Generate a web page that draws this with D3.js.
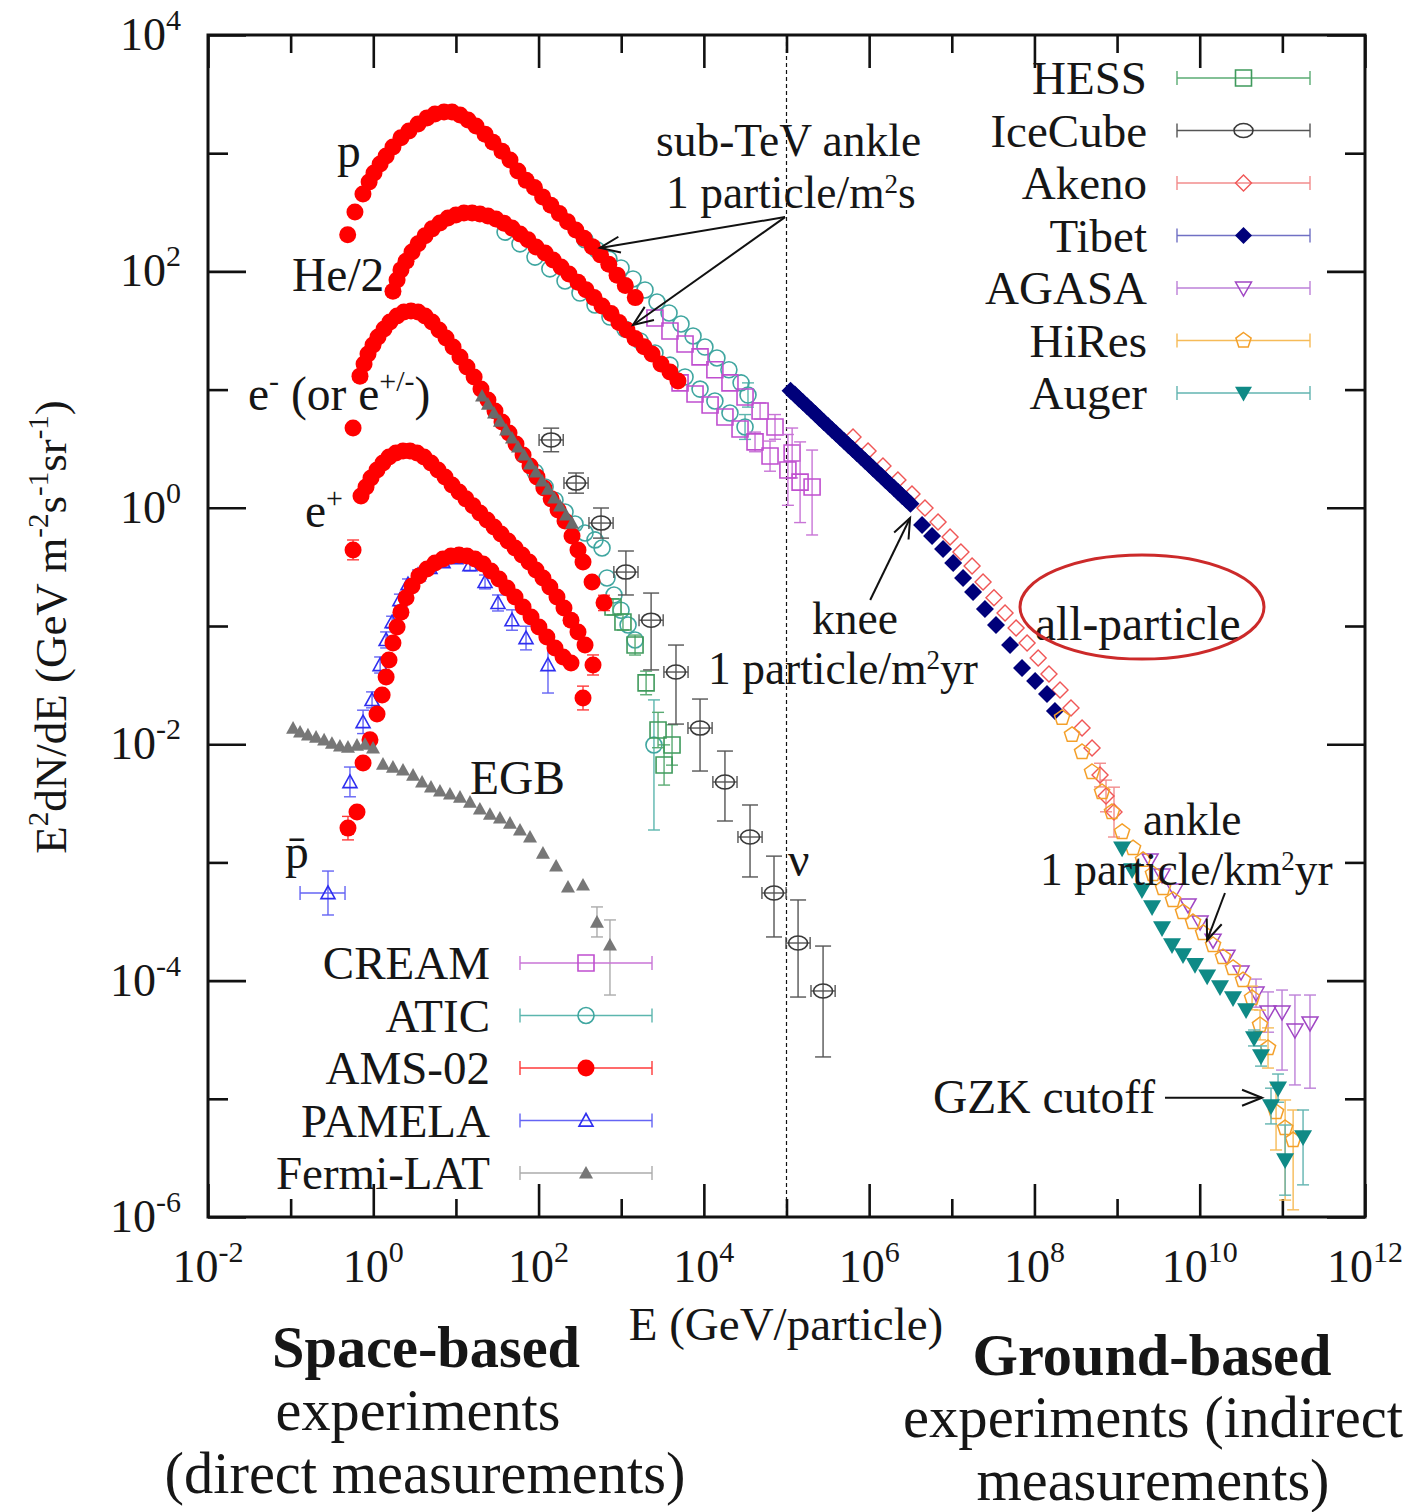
<!DOCTYPE html>
<html lang="en">
<head>
<meta charset="utf-8">
<title>Cosmic-ray energy spectra</title>
<script src="https://cdn.jsdelivr.net/npm/d3@7"></script>
<style>
  html, body { margin: 0; padding: 0; background: #fff; }
  svg text { font-family: "Liberation Serif", "Times New Roman", serif; fill: #161616; }
</style>
</head>
<body>
<svg id="chart" width="1413" height="1512"></svg>
<script>
// Rows: [E (GeV), E^2 dN/dE (GeV m^-2 s^-1 sr^-1), lower, upper]

// AMS-02
const amsProton = [[0.49,204],[0.60,318],[0.75,452],[0.89,570],[1.02,679],[1.21,811],[1.43,946],[1.73,1130],[2.16,1350],[2.70,1540],[3.48,1770],[4.47,1990],[5.58,2150],[7.18,2230],[8.97,2230],[11.2,2100],[14.0,1910],[17.5,1700],[22.5,1450],[28.1,1240],[36.1,1040],[45.1,875],[56.2,708],[70.8,589],[89.1,513],[112,427],[141,363],[178,309],[224,263],[282,224],[355,191],[447,162],[562,138],[708,115],[891,93],[1120,76],[1480,60]];
const amsHeliumHalf = [[1.73,68],[1.94,84.5],[2.16,103],[2.49,122],[2.94,146],[3.48,171],[4.23,200],[5.14,229],[6.41,257],[8.02,283],[10.0,300],[12.5,312],[15.7,312],[19.5,306],[24.4,294],[30.5,277],[38.2,256],[47.7,233],[59.6,207],[74.5,185],[93.1,161],[120,143],[150,125],[187,109],[233,95],[300,81],[375,70],[469,60],[586,51],[753,44],[940,37],[1175,32],[1470,27],[1890,23],[2360,20],[3030,16.5],[3890,14.1],[4860,11.8]];
const amsElectron = [[0.569,4.73],[0.690,13.0],[0.773,16.5],[0.863,20.0],[0.993,23.8],[1.14,27.9],[1.35,32.6],[1.59,37.3],[1.94,42.0],[2.35,45.4],[2.86,46.2],[3.48,45.4],[4.23,42.0],[5.14,37.3],[6.24,31.9],[7.59,27.3],[9.23,22.9],[11.2,18.9],[13.6,15.5],[16.6,12.8],[20.1,10.1],[24.4,8.17],[29.7,6.59],[36.1,5.32],[43.9,4.30],[53.3,3.47],[64.9,2.80],[78.8,2.26],[95.7,1.82],[116,1.47],[142,1.19],[172,0.957],[209,0.773],[254,0.577],[300,0.440],[345,0.348],[444,0.236],[619,0.157,0.135,0.182]];
const amsPositron = [[0.569,0.440,0.363,0.534],[0.710,1.26],[0.817,1.50],[0.938,1.79],[1.11,2.09],[1.31,2.39],[1.55,2.69],[1.88,2.91],[2.29,3.03],[2.78,3.03],[3.38,2.91],[4.11,2.69],[4.99,2.39],[6.07,2.09],[7.38,1.82],[8.97,1.56],[10.9,1.36],[13.2,1.19],[16.1,1.04],[19.5,0.903],[23.8,0.789],[28.9,0.689],[35.1,0.600],[42.7,0.524],[51.9,0.457],[63.1,0.399],[76.6,0.348],[93.1,0.298],[113,0.255],[137,0.214],[167,0.176],[203,0.142],[247,0.112],[300,0.0889],[365,0.0690],[456,0.0468,0.0385,0.0569]];
const amsAntiproton = [[0.494,0.00195,0.00155,0.00245],[0.635,0.00267],[0.752,0.00693],[0.912,0.0109],[1.11,0.0180],[1.28,0.0261],[1.43,0.0371],[1.55,0.0515],[1.73,0.0718],[1.94,0.0982],[2.16,0.131],[2.49,0.173],[2.94,0.218],[3.57,0.265],[4.47,0.303],[5.58,0.341],[6.98,0.369],[8.71,0.391],[10.9,0.399],[13.6,0.391],[17.0,0.369],[21.3,0.335],[26.5,0.292],[33.2,0.250],[41.5,0.210],[51.9,0.176],[64.9,0.145],[81.1,0.119],[101,0.0982],[126,0.0807],[158,0.0652],[198,0.0547],[247,0.0486],[345,0.0246,0.0195,0.0310]];

// PAMELA
const pamela = [[0.522,0.00479,0.00359,0.00641],[0.752,0.0154,0.0123,0.0194],[0.966,0.0237,0.0203,0.0277],[1.21,0.0468,0.0400,0.0547],[1.43,0.0762,0.0652,0.0891],[1.69,0.108,0.0963,0.121],[2.10,0.166,0.148,0.186],[2.63,0.226,0.205,0.250],[3.48,0.270,0.245,0.298],[4.85,0.310,0.281,0.341],[6.98,0.348,0.316,0.384],[10.0,0.376,0.341,0.415],[14.8,0.328,0.293,0.368],[22.5,0.236,0.206,0.270],[32.3,0.157,0.134,0.183],[47.7,0.112,0.0921,0.137],[70.5,0.0791,0.0628,0.0996],[130,0.0468,0.0271,0.0809]];
// [E, flux, lower, upper, E lower, E upper]
const pamelaLowEnergy = [[0.283,5.51e-4,3.59e-4,8.45e-4,0.130,0.455]];

// Fermi-LAT: extragalactic gamma background and e+e-
const fermiEGB = [[0.107,0.0137],[0.130,0.0127],[0.162,0.0120],[0.203,0.0115],[0.254,0.0109],[0.316,0.0102],[0.395,0.00966],[0.494,0.00946],[0.635,0.00984],[0.794,0.0100],[0.993,0.00929],[1.31,0.00679],[1.73,0.00641],[2.29,0.00605],[3.03,0.00548],[3.89,0.00479],[4.99,0.00435],[6.41,0.00402],[8.47,0.00379],[11.2,0.00357],[14.8,0.00324],[19.5,0.00283],[25.8,0.00256],[34.1,0.00238],[45.1,0.00215],[59.6,0.00188],[78.8,0.00164],[113,0.00120],[163,9.33e-4],[227,6.19e-4],[345,6.44e-4],[509,3.13e-4,2.34e-4,4.20e-4],[731,2.00e-4,7.55e-5,3.26e-4]];
const fermiElectrons = [[20.7,8.83],[24.4,7.55],[28.9,6.34],[34.1,5.42],[40.4,4.55],[47.7,3.90],[56.4,3.27],[66.7,2.80],[78.8,2.35],[93.1,2.01],[110,1.69],[130,1.44],[154,1.21],[182,1.04],[215,0.869],[254,0.743]];

// ATIC
const aticProton = [[365,185],[509,152],[711,127],[995,107],[1390,86.3],[1940,69.7],[2710,55.1],[3790,44.5],[5290,35.9],[7400,28.4],[10300,22.9],[14400,18.5],[20100,14.7],[28200,11.4],[34200,8.99,7.11,11.4]];
const aticHelium = [[39.3,215],[59.6,171],[90.6,132],[137,105],[209,83.0],[317,65.6],[482,52.0],[731,41.1],[1110,32.6],[1690,25.8],[2560,20.4],[3890,16.1],[5920,12.8],[8990,10.1],[13600,8.01],[20700,6.34],[31500,4.83,3.79,6.15]];
const aticElectron = [[90.6,2.01],[120,1.50],[158,1.16],[209,0.921],[276,0.729],[365,0.612],[482,0.535],[586,0.457],[673,0.255],[818,0.183],[995,0.136],[1210,0.102],[1470,0.0762],[2490,0.00984,0.00188,0.0237]];

// CREAM
const creamProton = [[2560,40.4],[3890,31.3],[5920,24.3],[8990,18.9],[13600,14.7],[20700,11.4],[31500,8.65],[47900,6.59,5.63,7.71],[72600,4.83,3.80,6.15],[117000,2.91,1.79,4.73],[204000,1.50,0.589,3.08]];
const creamHelium = [[5150,11.4],[7820,9.18],[11900,7.41],[18000,5.86],[27400,4.64],[41600,3.61,2.98,4.37],[63200,2.74,2.04,3.67],[104000,2.09,1.05,4.17],[146000,1.65,0.75,3.61]];

// HESS
const hess = [[796,0.145,0.124,0.170],[1050,0.108,0.0924,0.126],[1470,0.0690,0.0568,0.0838],[2000,0.0330,0.0262,0.0415],[2790,0.0132,0.00934,0.0186],[3300,0.00667,0.00451,0.00987],[4120,0.00984,0.00665,0.0146]];

// IceCube neutrinos, horizontal bins span E / binFactor .. E * binFactor
const iceCube = [[142,3.75,2.98,4.72],[284,1.62,1.33,1.97],[570,0.743,0.554,0.996],[1140,0.286,0.183,0.431],[2300,0.112,0.0425,0.190],[4600,0.0408,0.0148,0.0690],[8990,0.0137,0.00593,0.0241],[18000,0.00479,0.00224,0.00875],[36200,0.00164,7.53e-4,0.00306],[70600,5.51e-4,2.34e-4,0.00113],[138000,2.08e-4,7.26e-5,4.81e-4],[277000,8.17e-5,2.26e-5,1.96e-4]];
const iceCubeBinFactor = 1.4;

// Air-shower arrays
const tibet = [[1.12e5,9.79],[1.26e5,9.08],[1.41e5,8.41],[1.58e5,7.80],[1.78e5,7.23],[2.0e5,6.70],[2.24e5,6.21],[2.51e5,5.75],[2.82e5,5.33],[3.16e5,4.94],[3.55e5,4.58],[3.98e5,4.26],[4.47e5,3.94],[5.01e5,3.66],[5.62e5,3.39],[6.31e5,3.14],[7.08e5,2.91],[7.94e5,2.70],[8.91e5,2.50],[1.0e6,2.32],[1.12e6,2.15],[1.26e6,1.99],[1.41e6,1.85],[1.58e6,1.71],[1.78e6,1.58],[2.0e6,1.47],[2.24e6,1.36],[2.51e6,1.26],[2.82e6,1.17],[3.16e6,1.08],[4.37e6,0.715],[5.77e6,0.577],[7.84e6,0.448],[1.04e7,0.341],[1.37e7,0.255],[1.81e7,0.194],[2.52e7,0.139],[3.43e7,0.102],[5.07e7,0.0690],[7.08e7,0.0442],[1.02e8,0.0343],[1.42e8,0.0266],[1.77e8,0.0191]];
const akeno = [[6.38e5,3.97],[9.70e5,3.03],[1.47e6,2.26],[2.23e6,1.72],[3.30e6,1.31],[4.74e6,0.995],[6.82e6,0.759],[9.53e6,0.566],[1.29e7,0.423],[1.76e7,0.322],[2.39e7,0.236],[3.24e7,0.173],[4.41e7,0.129],[6.00e7,0.0962],[8.15e7,0.0718],[1.11e8,0.0536],[1.50e8,0.0393],[2.04e8,0.0288],[2.77e8,0.0202],[3.77e8,0.0137],[4.98e8,0.00929],[6.22e8,0.00548,0.00435,0.00690],[7.35e8,0.00365,0.00268,0.00497],[9.18e8,0.00267,0.00164,0.00433]];
const hires = [[2.16e8,0.0167],[2.85e8,0.0120],[3.77e8,0.00859],[4.98e8,0.00582],[6.58e8,0.00394],[8.69e8,0.00267],[1.15e9,0.00181],[1.56e9,0.00132],[2.06e9,0.00105],[2.72e9,7.98e-4],[3.60e9,6.07e-4],[4.75e9,4.81e-4],[6.28e9,3.80e-4],[8.30e9,3.13e-4],[1.10e10,2.53e-4],[1.45e10,2.00e-4],[1.91e10,1.58e-4],[2.53e10,1.28e-4],[3.34e10,1.01e-4],[4.30e10,7.13e-5,5.66e-5,8.98e-5],[5.37e10,4.21e-5,3.15e-5,5.63e-5],[6.71e10,2.69e-5,1.82e-5,3.98e-5],[8.39e10,7.73e-6,3.69e-6,1.31e-5],[1.08e11,5.66e-6,1.39e-6,9.77e-6],[1.35e11,4.48e-6,1.15e-6,8.04e-6]];
const agasa = [[2.51e9,1.05e-3],[3.50e9,7.82e-4],[5.02e9,5.83e-4],[7.23e9,4.37e-4],[1.01e10,3.13e-4],[1.45e10,2.20e-4],[2.14e10,1.61e-4],[3.16e10,1.18e-4],[4.80e10,7.85e-5,5.96e-5,1.03e-4],[6.71e10,5.42e-5,3.66e-5,8.02e-5],[9.91e10,5.42e-5,1.75e-5,8.32e-5],[1.42e11,3.82e-5,1.31e-5,7.55e-5],[2.16e11,4.38e-5,1.23e-5,7.55e-5]];
const auger = [[1.15e9,1.32e-3],[1.52e9,8.63e-4],[2.00e9,5.83e-4],[2.65e9,4.20e-4],[3.50e9,2.79e-4],[4.62e9,2.00e-4],[6.28e9,1.65e-4],[8.77e9,1.36e-4],[1.23e10,1.09e-4],[1.76e10,8.83e-5],[2.53e10,7.13e-5],[3.64e10,5.64e-5],[4.54e10,3.27e-5,2.80e-5,3.82e-5],[5.52e10,2.30e-5,1.89e-5,2.80e-5],[7.29e10,8.69e-6,6.13e-6,1.23e-5],[8.87e10,1.23e-5,9.35e-6,1.62e-5],[1.08e11,3.03e-6,1.53e-6,6.00e-6],[1.78e11,4.75e-6,1.87e-6,8.04e-6]];

// Axis ticks (decade exponents) and legends
const xTickExponents = [-2,-1,0,1,2,3,4,5,6,7,8,9,10,11,12];
const yTickExponents = [-6,-5,-4,-3,-2,-1,0,1,2,3,4];
const legendGround = ["HESS","IceCube","Akeno","Tibet","AGASA","HiRes","Auger"];
const legendSpace = ["CREAM","ATIC","AMS-02","PAMELA","Fermi-LAT"];
const separatorEnergy = 1e5;

// Annotation arrows, endpoints in data units [E, flux]
const arrows = [
  [[9.6e4,288],[553,158]],
  [[9.6e4,288],[1390,35.2]],
  [[1.03e6,0.166],[3.13e6,0.820]],
  [[2.02e10,5.51e-4],[1.23e10,2.20e-4]],
  [[3.80e9,1.02e-5],[5.68e10,1.02e-5]]
];

// ---------------------------------------------------------------
const svg = d3.select("#chart");
const plot = { left: 208, right: 1365, top: 35, bottom: 1217 };
const x = d3.scaleLog().domain([1e-2, 1e12]).range([plot.left, plot.right]);
const y = d3.scaleLog().domain([1e-6, 1e4]).range([plot.bottom, plot.top]);

const styles = {
  "AMS-02":   { shape: "circle",   r: 8.5, fill: "#ff0000", stroke: "none",    sw: 0,   err: "#ff3a3a" },
  "ATIC":     { shape: "circle",   r: 8,   fill: "none",    stroke: "#3fa6a0", sw: 1.6, err: "#5cb6ae" },
  "CREAM":    { shape: "square",   r: 8,   fill: "none",    stroke: "#c04fcf", sw: 1.6, err: "#c874d6" },
  "PAMELA":   { shape: "triUp",    r: 7,   fill: "none",    stroke: "#2e2ef0", sw: 1.6, err: "#6464f4" },
  "Fermi-LAT":{ shape: "triUp",    r: 7,   fill: "#777777", stroke: "none",    sw: 0,   err: "#ababab" },
  "HESS":     { shape: "square",   r: 8,   fill: "none",    stroke: "#3f9a5c", sw: 1.6, err: "#5aab73" },
  "IceCube":  { shape: "ellipse",  r: 8,   fill: "none",    stroke: "#3a3a3a", sw: 1.6, err: "#555555" },
  "Akeno":    { shape: "diamond",  r: 8,   fill: "none",    stroke: "#f05656", sw: 1.4, err: "#f28c8c" },
  "Tibet":    { shape: "diamond",  r: 9,   fill: "#00007a", stroke: "none",    sw: 0,   err: "#7070c4" },
  "AGASA":    { shape: "triDown",  r: 8,   fill: "none",    stroke: "#a046c4", sw: 1.5, err: "#bd80d8" },
  "HiRes":    { shape: "pentagon", r: 8,   fill: "none",    stroke: "#f4a02a", sw: 1.5, err: "#f6bb58" },
  "Auger":    { shape: "triDown",  r: 9,   fill: "#0f8a86", stroke: "none",    sw: 0,   err: "#62b4b0" }
};

function shapePath(shape, r) {
  switch (shape) {
    case "circle": return `M${-r},0a${r},${r} 0 1,0 ${2*r},0a${r},${r} 0 1,0 ${-2*r},0Z`;
    case "ellipse": { const a = r + 1.5, b = r - 1; return `M${-a},0a${a},${b} 0 1,0 ${2*a},0a${a},${b} 0 1,0 ${-2*a},0Z`; }
    case "square": return `M${-r},${-r}H${r}V${r}H${-r}Z`;
    case "diamond": return `M0,${-r}L${r},0L0,${r}L${-r},0Z`;
    case "triUp": return `M0,${-r}L${r},${r*0.8}L${-r},${r*0.8}Z`;
    case "triDown": return `M${-r},${-r*0.75}L${r},${-r*0.75}L0,${r}Z`;
    case "pentagon": {
      const pts = d3.range(5).map(k => {
        const a = -Math.PI / 2 + k * 2 * Math.PI / 5;
        return [r * Math.cos(a), r * Math.sin(a)];
      });
      return "M" + pts.map(p => p[0].toFixed(2) + "," + p[1].toFixed(2)).join("L") + "Z";
    }
  }
}

function errorBar(g, x0, y1, y2, color, cap) {
  g.append("line").attr("x1", x0).attr("x2", x0).attr("y1", y1).attr("y2", y2)
    .attr("stroke", color).attr("stroke-width", 1.4);
  [y1, y2].forEach(yy => g.append("line").attr("x1", x0 - cap).attr("x2", x0 + cap)
    .attr("y1", yy).attr("y2", yy).attr("stroke", color).attr("stroke-width", 1.4));
}
function errorBarX(g, x1, x2, y0, color, cap) {
  g.append("line").attr("x1", x1).attr("x2", x2).attr("y1", y0).attr("y2", y0)
    .attr("stroke", color).attr("stroke-width", 1.4);
  [x1, x2].forEach(xx => g.append("line").attr("x1", xx).attr("x2", xx)
    .attr("y1", y0 - cap).attr("y2", y0 + cap).attr("stroke", color).attr("stroke-width", 1.4));
}

function drawSeries(rows, name, opts = {}) {
  const st = Object.assign({}, styles[name], opts);
  const g = svg.append("g").attr("class", "series " + name);
  rows.forEach(r => {
    if (r.length >= 4) errorBar(g, x(r[0]), y(r[2]), y(r[3]), st.err, 6);
    if (r.length >= 6) errorBarX(g, x(r[4]), x(r[5]), y(r[1]), st.err, 7);
  });
  g.selectAll("path.mk").data(rows).join("path").attr("class", "mk")
    .attr("d", shapePath(st.shape, st.r))
    .attr("transform", d => `translate(${x(d[0])},${y(d[1])})`)
    .attr("fill", st.fill).attr("stroke", st.stroke).attr("stroke-width", st.sw);
  return g;
}

// ---- frame and ticks
svg.append("rect").attr("x", plot.left).attr("y", plot.top)
  .attr("width", plot.right - plot.left).attr("height", plot.bottom - plot.top)
  .attr("fill", "none").attr("stroke", "#111").attr("stroke-width", 3);

const xMajor = xTickExponents.filter(e => e % 2 === 0).map(e => Math.pow(10, e));
const xMinor = xTickExponents.filter(e => e % 2 !== 0).map(e => Math.pow(10, e));
const yMajor = yTickExponents.filter(e => e % 2 === 0).map(e => Math.pow(10, e));
const yMinor = yTickExponents.filter(e => e % 2 !== 0).map(e => Math.pow(10, e));

function ticks(axisFn, scale, values, size, transform) {
  const g = svg.append("g").attr("transform", transform)
    .call(axisFn(scale).tickValues(values).tickSize(size).tickSizeOuter(0).tickFormat(""));
  g.select(".domain").remove();
  g.selectAll(".tick line").attr("stroke", "#111").attr("stroke-width", 2.6);
}
ticks(d3.axisBottom, x, xMajor, -33, `translate(0,${plot.bottom})`);
ticks(d3.axisBottom, x, xMinor, -18, `translate(0,${plot.bottom})`);
ticks(d3.axisTop, x, xMajor, -33, `translate(0,${plot.top})`);
ticks(d3.axisTop, x, xMinor, -18, `translate(0,${plot.top})`);
ticks(d3.axisLeft, y, yMajor, -38, `translate(${plot.left},0)`);
ticks(d3.axisLeft, y, yMinor, -20, `translate(${plot.left},0)`);
ticks(d3.axisRight, y, yMajor, -38, `translate(${plot.right},0)`);
ticks(d3.axisRight, y, yMinor, -20, `translate(${plot.right},0)`);

// power-of-ten tick labels
function powLabel(px, py, exp, anchor) {
  const t = svg.append("text").attr("x", px).attr("y", py).attr("font-size", 46)
    .attr("text-anchor", anchor).attr("fill", "#2a2a2a");
  t.append("tspan").text("10");
  t.append("tspan").attr("dy", -20).attr("font-size", 30).text(String(exp));
}
xTickExponents.filter(e => e % 2 === 0).forEach(e => powLabel(x(Math.pow(10, e)), 1282, e, "middle"));
yTickExponents.filter(e => e % 2 === 0).forEach(e => powLabel(181, y(Math.pow(10, e)) + 15, e, "end"));

// Text with superscripts; each line is {x, y, segs:[[text, isSuperscript], ...]}
function richLines(lines, size, anchor, extra, supRaise, supScale) {
  const raiseK = supRaise || 0.4, scaleK = supScale || 0.64;
  const t = svg.append("text").attr("font-size", size).attr("text-anchor", anchor || "start");
  if (extra) extra(t);
  lines.forEach(line => {
    let raised = 0;
    line.segs.forEach((s, i) => {
      const sp = t.append("tspan").text(s[0]);
      const shift = s[1] ? -Math.round(size * raiseK) : 0;
      if (i === 0) sp.attr("x", line.x).attr("y", line.y + shift);
      else if (shift - raised) sp.attr("dy", shift - raised);
      raised = shift;
      if (s[1]) sp.attr("font-size", Math.round(size * scaleK));
    });
  });
  return t;
}
function rich(px, py, segs, size, anchor, extra) {
  return richLines([{ x: px, y: py, segs }], size, anchor, extra);
}

// axis titles
rich(786, 1340, [["E (GeV/particle)"]], 47, "middle", t => t.attr("fill", "#333"));
rich(0, 0, [["E"],["2",1],["dN/dE (GeV m"],["-2",1],["s"],["-1",1],["sr"],["-1",1],[")"]], 45, "middle",
  t => t.attr("transform", "translate(66,627) rotate(-90)").attr("fill", "#333"));

// separator between direct and indirect measurements
svg.append("line").attr("x1", x(separatorEnergy)).attr("x2", x(separatorEnergy))
  .attr("y1", plot.top).attr("y2", plot.bottom)
  .attr("stroke", "#111").attr("stroke-width", 1.2).attr("stroke-dasharray", "4,3");

// ---- data layers
drawSeries(aticProton, "ATIC");
drawSeries(aticHelium, "ATIC");
drawSeries(creamProton, "CREAM");
drawSeries(creamHelium, "CREAM");
drawSeries(aticElectron, "ATIC");
drawSeries(hess, "HESS");
drawSeries(pamela, "PAMELA");
drawSeries(pamelaLowEnergy, "PAMELA");
drawSeries(amsProton, "AMS-02");
drawSeries(amsHeliumHalf, "AMS-02");
drawSeries(amsElectron, "AMS-02");
drawSeries(amsPositron, "AMS-02");
drawSeries(amsAntiproton, "AMS-02");
drawSeries(fermiEGB, "Fermi-LAT");
drawSeries(fermiElectrons, "Fermi-LAT", { fill: "#6a6a6a" });

// IceCube with energy bins
(function () {
  const st = styles["IceCube"];
  const g = svg.append("g");
  iceCube.forEach(r => {
    errorBar(g, x(r[0]), y(r[2]), y(r[3]), st.err, 8);
    errorBarX(g, x(r[0] / iceCubeBinFactor), x(r[0] * iceCubeBinFactor), y(r[1]), st.err, 6);
  });
  g.selectAll("path.mk").data(iceCube).join("path").attr("class", "mk")
    .attr("d", shapePath(st.shape, st.r))
    .attr("transform", d => `translate(${x(d[0])},${y(d[1])})`)
    .attr("fill", "none").attr("stroke", st.stroke).attr("stroke-width", st.sw);
})();

drawSeries(akeno, "Akeno");
drawSeries(tibet, "Tibet");
drawSeries(agasa, "AGASA");
drawSeries(hires, "HiRes");
drawSeries(auger, "Auger");

// ---- legends
function legend(names, labelX, x1, x2, y0, step) {
  names.forEach((nm, i) => {
    const st = styles[nm];
    const cy = y0 + i * step;
    svg.append("text").attr("x", labelX).attr("y", cy + 16).attr("font-size", 47)
      .attr("text-anchor", "end").text(nm);
    errorBarX(svg, x1, x2, cy, st.err, 7);
    svg.append("path").attr("d", shapePath(st.shape, Math.min(st.r, 8.5)))
      .attr("transform", `translate(${(x1 + x2) / 2},${cy})`)
      .attr("fill", st.fill).attr("stroke", st.stroke).attr("stroke-width", st.sw);
  });
}
legend(legendGround, 1147, 1177, 1310, 78, 52.5);
legend(legendSpace, 490, 520, 652, 963, 52.5);

// ---- annotations
const defs = svg.append("defs");
defs.append("marker").attr("id", "vhead").attr("viewBox", "-24 -12 28 24")
  .attr("refX", 0).attr("refY", 0).attr("markerWidth", 28).attr("markerHeight", 24)
  .attr("markerUnits", "userSpaceOnUse").attr("orient", "auto")
  .append("path").attr("d", "M-20,-8L0,0L-20,8").attr("fill", "none")
  .attr("stroke", "#111").attr("stroke-width", 2);
arrows.forEach(a => {
  svg.append("line").attr("x1", x(a[0][0])).attr("y1", y(a[0][1]))
    .attr("x2", x(a[1][0])).attr("y2", y(a[1][1]))
    .attr("stroke", "#111").attr("stroke-width", 2).attr("marker-end", "url(#vhead)");
});

const fs = 47.5;
rich(337, 167, [["p"]], fs);
rich(292, 291, [["He/2"]], fs);
rich(248, 410, [["e"],["-",1],[" (or e"],["+/-",1],[")"]], fs);
rich(305, 527, [["e"],["+",1]], fs);
rich(285, 868, [["p\u0304"]], fs);
rich(470, 794, [["EGB"]], fs);
rich(788, 876, [["\u03BD"]], fs);

// two-line notes, set a little smaller so the lines do not collide
const fs2 = 45.5;
richLines([
  { x: 656, y: 156, segs: [["sub-TeV ankle"]] },
  { x: 666, y: 208, segs: [["1 particle/m"],["2",1],["s"]] }
], fs2, "start", null, 0.33, 0.6);
richLines([
  { x: 812, y: 634, segs: [["knee"]] },
  { x: 708, y: 684, segs: [["1 particle/m"],["2",1],["yr"]] }
], fs2, "start", null, 0.33, 0.6);
rich(1035, 640, [["all-particle"]], fs);
richLines([
  { x: 1143, y: 835, segs: [["ankle"]] },
  { x: 1040, y: 885, segs: [["1 particle/km"],["2",1],["yr"]] }
], fs2, "start", null, 0.33, 0.6);
rich(933, 1113, [["GZK cutoff"]], fs);

svg.append("ellipse").attr("cx", 1142).attr("cy", 607).attr("rx", 122).attr("ry", 52)
  .attr("fill", "none").attr("stroke", "#cc2a2a").attr("stroke-width", 3);

// ---- experiment category captions
const captions = [
  ["Space-based", 426, 1367, 308, true],
  ["experiments", 418, 1430, 285, false],
  ["(direct measurements)", 425, 1493, 521, false],
  ["Ground-based", 1152, 1375, 359, true],
  ["experiments (indirect", 1153, 1437, 500, false],
  ["measurements)", 1153, 1500, 353, false]
];
captions.forEach(c => {
  svg.append("text").attr("x", c[1]).attr("y", c[2]).attr("font-size", 60)
    .attr("text-anchor", "middle").attr("font-weight", c[4] ? "bold" : "normal")
    .attr("textLength", c[3]).attr("lengthAdjust", "spacingAndGlyphs")
    .attr("fill", "#000").text(c[0]);
});
</script>
</body>
</html>
